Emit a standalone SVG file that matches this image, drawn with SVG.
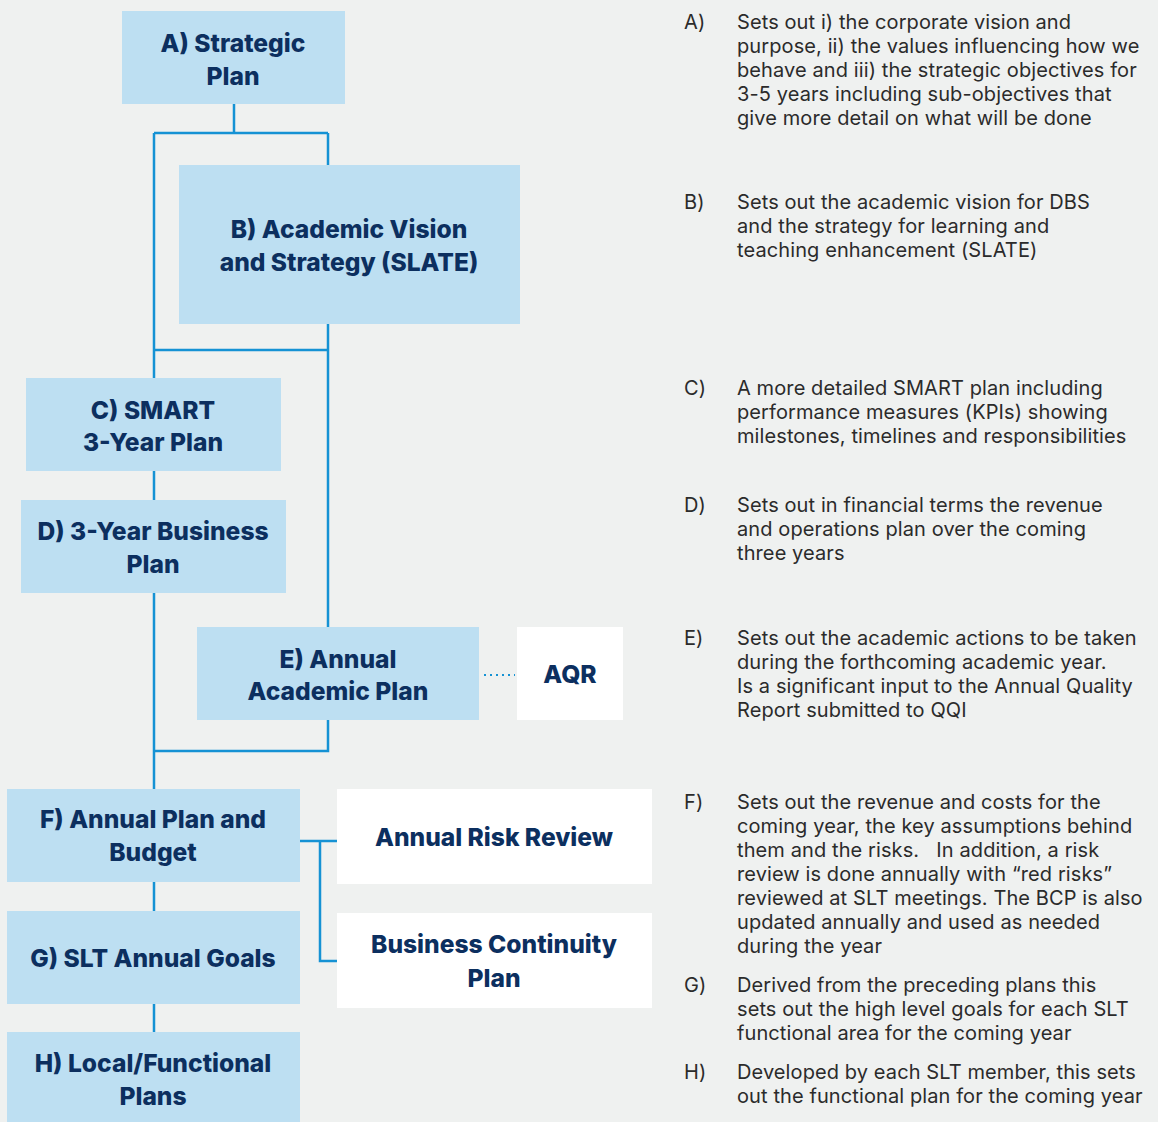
<svg xmlns="http://www.w3.org/2000/svg" width="1158" height="1122" viewBox="0 0 1158 1122">
<style>
.bg{fill:#eff1f0}
.n{fill:#bddff2}
.w{fill:#ffffff}
.t{font-family:Inter,"Noto Sans","Liberation Sans",sans-serif;font-weight:800;font-size:24.6px;fill:#0c2f5f;text-anchor:middle}
.d{font-family:Inter,"Noto Sans","Liberation Sans",sans-serif;font-size:20px;fill:#2b2b2b;letter-spacing:0.1px}
.c{fill:none;stroke:#1592d4;stroke-width:2.5}
.dot{fill:none;stroke:#1592d4;stroke-width:2;stroke-dasharray:2 4}
</style>
<rect class="bg" x="0" y="0" width="1158" height="1122"/>
<g id="connectors">
<path class="c" d="M234 104V133M154 133H328M154 133V378M328 133V165M328 324V627M154 350H328M154 471V500M154 593V789M328 720V751H154M154 882V911M154 1004V1032M300 841H337M320 841V961H337"/>
<path class="dot" d="M484 675H515"/>
</g>
<g id="nodeA"><rect class="n" x="122" y="11" width="223" height="93"/><text class="t" x="233" y="52">A) Strategic</text><text class="t" x="233" y="85">Plan</text></g>
<g id="nodeB"><rect class="n" x="179" y="165" width="341" height="159"/><text class="t" x="349" y="238">B) Academic Vision</text><text class="t" x="349" y="271">and Strategy (SLATE)</text></g>
<g id="nodeC"><rect class="n" x="26" y="378" width="255" height="93"/><text class="t" x="153" y="419">C) SMART</text><text class="t" x="153" y="451">3-Year Plan</text></g>
<g id="nodeD"><rect class="n" x="21" y="500" width="265" height="93"/><text class="t" x="153" y="540">D) 3-Year Business</text><text class="t" x="153" y="573">Plan</text></g>
<g id="nodeE"><rect class="n" x="197" y="627" width="282" height="93"/><text class="t" x="338" y="668">E) Annual</text><text class="t" x="338" y="700">Academic Plan</text></g>
<g id="nodeAQR"><rect class="w" x="517" y="627" width="106" height="93"/><text class="t" x="570" y="683">AQR</text></g>
<g id="nodeF"><rect class="n" x="7" y="789" width="293" height="93"/><text class="t" x="153" y="828">F) Annual Plan and</text><text class="t" x="153" y="861">Budget</text></g>
<g id="nodeRisk"><rect class="w" x="337" y="789" width="315" height="95"/><text class="t" x="494" y="846">Annual Risk Review</text></g>
<g id="nodeG"><rect class="n" x="7" y="911" width="293" height="93"/><text class="t" x="153" y="967">G) SLT Annual Goals</text></g>
<g id="nodeBCP"><rect class="w" x="337" y="913" width="315" height="95"/><text class="t" x="494" y="953">Business Continuity</text><text class="t" x="494" y="987">Plan</text></g>
<g id="nodeH"><rect class="n" x="7" y="1032" width="293" height="95"/><text class="t" x="153" y="1072">H) Local/Functional</text><text class="t" x="153" y="1105">Plans</text></g>
<g id="descriptions">
<text class="d" x="684" y="29">A)</text>
<text class="d" x="737" y="29">Sets out i) the corporate vision and</text>
<text class="d" x="737" y="53">purpose, ii) the values influencing how we</text>
<text class="d" x="737" y="77">behave and iii) the strategic objectives for</text>
<text class="d" x="737" y="101">3-5 years including sub-objectives that</text>
<text class="d" x="737" y="125">give more detail on what will be done</text>
<text class="d" x="684" y="209">B)</text>
<text class="d" x="737" y="209">Sets out the academic vision for DBS</text>
<text class="d" x="737" y="233">and the strategy for learning and</text>
<text class="d" x="737" y="257">teaching enhancement (SLATE)</text>
<text class="d" x="684" y="395">C)</text>
<text class="d" x="737" y="395">A more detailed SMART plan including</text>
<text class="d" x="737" y="419">performance measures (KPIs) showing</text>
<text class="d" x="737" y="443">milestones, timelines and responsibilities</text>
<text class="d" x="684" y="512">D)</text>
<text class="d" x="737" y="512">Sets out in financial terms the revenue</text>
<text class="d" x="737" y="536">and operations plan over the coming</text>
<text class="d" x="737" y="560">three years</text>
<text class="d" x="684" y="645">E)</text>
<text class="d" x="737" y="645">Sets out the academic actions to be taken</text>
<text class="d" x="737" y="669">during the forthcoming academic year.</text>
<text class="d" x="737" y="693">Is a significant input to the Annual Quality</text>
<text class="d" x="737" y="717">Report submitted to QQI</text>
<text class="d" x="684" y="809">F)</text>
<text class="d" x="737" y="809">Sets out the revenue and costs for the</text>
<text class="d" x="737" y="833">coming year, the key assumptions behind</text>
<text class="d" x="737" y="857" xml:space="preserve">them and the risks.   In addition, a risk</text>
<text class="d" x="737" y="881">review is done annually with “red risks”</text>
<text class="d" x="737" y="905">reviewed at SLT meetings. The BCP is also</text>
<text class="d" x="737" y="929">updated annually and used as needed</text>
<text class="d" x="737" y="953">during the year</text>
<text class="d" x="684" y="992">G)</text>
<text class="d" x="737" y="992">Derived from the preceding plans this</text>
<text class="d" x="737" y="1016">sets out the high level goals for each SLT</text>
<text class="d" x="737" y="1040">functional area for the coming year</text>
<text class="d" x="684" y="1079">H)</text>
<text class="d" x="737" y="1079">Developed by each SLT member, this sets</text>
<text class="d" x="737" y="1103">out the functional plan for the coming year</text>
</g>
</svg>
